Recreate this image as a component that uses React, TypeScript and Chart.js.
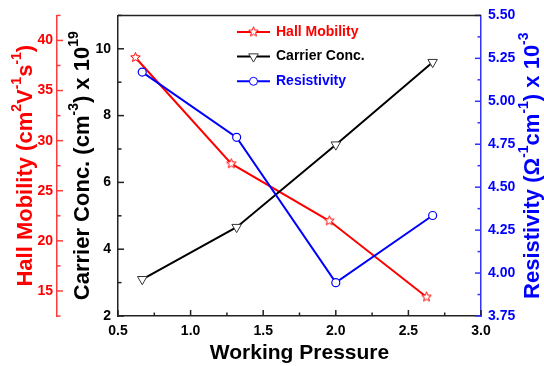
import { useEffect, useRef } from 'react';
import { Chart, registerables } from 'chart.js';

Chart.register(...registerables);

// Working pressure values for each sample
const pressureHall = [0.62, 1.28, 1.955, 2.625];
const pressure = [0.667, 1.317, 2.0, 2.667];

// Measured properties
const hallMobility = [38.3, 27.7, 22.0, 14.4];
const carrierConc = [3.1, 4.66, 7.13, 9.6];
const resistivity = [5.17, 4.79, 3.944, 4.335];

const seriesNames = ['Hall Mobility', 'Carrier Conc.', 'Resistivity'];

const RED = '#ff0000';
const RED_AXIS = '#ff3b3b';
const BLUE = '#0000ff';
const BLUE_AXIS = '#3333ff';
const BLACK = '#000000';
const FRAME = '#222222';
const FAMILY = '"Liberation Sans", Arial, Helvetica, sans-serif';

type Seg = { t: string; sup?: boolean };

function starPath(g: CanvasRenderingContext2D, cx: number, cy: number, r: number) {
  g.beginPath();
  for (let i = 0; i < 10; i++) {
    const rad = i % 2 === 0 ? r : r * 0.45;
    const a = -Math.PI / 2 + (i * Math.PI) / 5;
    const x = cx + rad * Math.cos(a);
    const y = cy + rad * Math.sin(a);
    if (i === 0) g.moveTo(x, y);
    else g.lineTo(x, y);
  }
  g.closePath();
}

function makeStar(color: string, r: number) {
  const c = document.createElement('canvas');
  const s = Math.ceil(r * 2 + 3);
  c.width = s;
  c.height = s;
  const g = c.getContext('2d')!;
  starPath(g, s / 2, s / 2, r);
  g.fillStyle = '#ffffff';
  g.fill();
  g.strokeStyle = color;
  g.lineWidth = 1;
  g.stroke();
  return c;
}

// Draws a title with superscripts, centred on (cx, cy), rotated by angle
function richText(
  ctx: CanvasRenderingContext2D,
  segs: Seg[],
  cx: number,
  cy: number,
  angle: number,
  size: number,
  color: string
) {
  const supSize = Math.round(size * 0.62);
  const fontMain = `bold ${size}px ${FAMILY}`;
  const fontSup = `bold ${supSize}px ${FAMILY}`;
  let total = 0;
  const widths = segs.map((s) => {
    ctx.font = s.sup ? fontSup : fontMain;
    const w = ctx.measureText(s.t).width;
    total += w;
    return w;
  });
  ctx.save();
  ctx.translate(cx, cy);
  ctx.rotate(angle);
  ctx.fillStyle = color;
  ctx.textBaseline = 'middle';
  ctx.textAlign = 'left';
  let x = -total / 2;
  segs.forEach((s, i) => {
    ctx.font = s.sup ? fontSup : fontMain;
    ctx.fillText(s.t, x, s.sup ? -size * 0.38 : 0);
    x += widths[i];
  });
  ctx.restore();
}

const isMultiple = (v: number, step: number) => Math.abs(v / step - Math.round(v / step)) < 1e-6;

export default function App() {
  const ref = useRef<HTMLCanvasElement | null>(null);

  useEffect(() => {
    if (!ref.current) return;
    const star = makeStar(RED, 5);

    const tickFont = { family: FAMILY, size: 14, weight: 'bold' as const };

    const innerTicks = {
      id: 'innerTicks',
      afterDraw(chart: any) {
        const ctx: CanvasRenderingContext2D = chart.ctx;
        const ca = chart.chartArea;
        const spec: [string, string, string][] = [
          ['x', FRAME, 'up'],
          ['yHall', RED_AXIS, 'right'],
          ['yCarrier', FRAME, 'right'],
          ['yRes', BLUE_AXIS, 'left'],
        ];
        ctx.save();
        for (const [id, color, dir] of spec) {
          const s = chart.scales[id];
          ctx.strokeStyle = color;
          ctx.lineWidth = 1.5;
          for (const t of s.ticks) {
            const p = s.getPixelForValue(t.value);
            const len = t.label !== '' ? 6 : 3.5;
            ctx.beginPath();
            if (dir === 'up') {
              ctx.moveTo(p, s.top);
              ctx.lineTo(p, s.top - len);
            } else if (dir === 'right') {
              ctx.moveTo(s.right, p);
              ctx.lineTo(s.right + len, p);
            } else {
              ctx.moveTo(s.left, p);
              ctx.lineTo(s.left - len, p);
            }
            ctx.stroke();
          }
        }
        // top frame line
        ctx.strokeStyle = FRAME;
        ctx.lineWidth = 1.5;
        ctx.beginPath();
        ctx.moveTo(ca.left, ca.top);
        ctx.lineTo(ca.right, ca.top);
        ctx.stroke();

        // axis titles
        const cy = (ca.top + ca.bottom) / 2;
        richText(
          ctx,
          [{ t: 'Hall Mobility (cm' }, { t: '2', sup: true }, { t: 'V' }, { t: '-1', sup: true }, { t: 's' }, { t: '-1', sup: true }, { t: ')' }],
          26,
          cy,
          -Math.PI / 2,
          22,
          RED
        );
        richText(
          ctx,
          [{ t: 'Carrier Conc. (cm' }, { t: '-3', sup: true }, { t: ') x 10' }, { t: '19', sup: true }],
          83,
          cy,
          -Math.PI / 2,
          22,
          BLACK
        );
        richText(
          ctx,
          [{ t: 'Resistivity (Ω' }, { t: '-1', sup: true }, { t: 'cm' }, { t: '-1', sup: true }, { t: ') x 10' }, { t: '-3', sup: true }],
          533,
          cy,
          -Math.PI / 2,
          22,
          BLUE
        );
        richText(ctx, [{ t: 'Working Pressure' }], (ca.left + ca.right) / 2, 353, 0, 21, BLACK);

        // legend
        const colors = [RED, BLACK, BLUE];
        const x0 = ca.left + 119;
        const x1 = ca.left + 152;
        const xm = (x0 + x1) / 2;
        seriesNames.forEach((name, i) => {
          const y = ca.top + 16.5 + i * 24.7;
          ctx.strokeStyle = colors[i];
          ctx.lineWidth = 2;
          ctx.beginPath();
          ctx.moveTo(x0, y);
          ctx.lineTo(x1, y);
          ctx.stroke();
          ctx.lineWidth = 1;
          ctx.fillStyle = '#ffffff';
          if (i === 0) {
            ctx.drawImage(star, xm - star.width / 2, y - star.height / 2);
          } else if (i === 1) {
            const r = 5.5;
            ctx.beginPath();
            ctx.moveTo(xm, y + r);
            ctx.lineTo(xm - r * 0.866, y - r / 2);
            ctx.lineTo(xm + r * 0.866, y - r / 2);
            ctx.closePath();
            ctx.fill();
            ctx.strokeStyle = '#333333';
            ctx.stroke();
          } else {
            ctx.beginPath();
            ctx.arc(xm, y, 4, 0, Math.PI * 2);
            ctx.fill();
            ctx.stroke();
          }
          ctx.font = `bold 14px ${FAMILY}`;
          ctx.fillStyle = colors[i];
          ctx.textAlign = 'left';
          ctx.textBaseline = 'middle';
          ctx.fillText(name, x1 + 6, y);
        });
        ctx.restore();
      },
    };

    const chart = new Chart(ref.current, {
      type: 'scatter',
      data: {
        datasets: [
          {
            label: seriesNames[2],
            data: pressure.map((x, i) => ({ x, y: resistivity[i] })),
            yAxisID: 'yRes',
            showLine: true,
            borderColor: BLUE,
            borderWidth: 2,
            pointStyle: 'circle',
            pointRadius: 4,
            pointBorderWidth: 1.2,
            pointBackgroundColor: '#ffffff',
            pointBorderColor: BLUE,
          },
          {
            label: seriesNames[1],
            data: pressure.map((x, i) => ({ x, y: carrierConc[i] })),
            yAxisID: 'yCarrier',
            showLine: true,
            borderColor: BLACK,
            borderWidth: 2,
            pointStyle: 'triangle',
            rotation: 180,
            pointRadius: 5.5,
            pointBorderWidth: 1,
            pointBackgroundColor: '#ffffff',
            pointBorderColor: '#333333',
          },
          {
            label: seriesNames[0],
            data: pressureHall.map((x, i) => ({ x, y: hallMobility[i] })),
            yAxisID: 'yHall',
            showLine: true,
            borderColor: RED,
            borderWidth: 2,
            pointStyle: star as any,
            pointRadius: 5,
          },
        ],
      },
      options: {
        responsive: false,
        animation: false,
        layout: { padding: { top: 12, left: 0, right: 0, bottom: 0 } },
        plugins: { legend: { display: false }, tooltip: { enabled: false } },
        scales: {
          x: {
            type: 'linear',
            position: 'bottom',
            min: 0.5,
            max: 3.0,
            ticks: {
              stepSize: 0.25,
              autoSkip: false,
              maxRotation: 0,
              padding: 7,
              color: BLACK,
              font: tickFont,
              callback: (v: any) => (isMultiple(Number(v), 0.5) ? Number(v).toFixed(1) : ''),
            },
            grid: { display: true, drawOnChartArea: false, drawTicks: false },
            border: { color: FRAME, width: 1.5 },
            afterFit: (s: any) => {
              s.height = 50;
            },
          },
          yHall: {
            type: 'linear',
            position: 'left',
            weight: 2,
            min: 12.5,
            max: 42.5,
            ticks: {
              stepSize: 2.5,
              autoSkip: false,
              padding: 4,
              color: RED,
              font: tickFont,
              callback: (v: any) => (isMultiple(Number(v), 5) ? String(Number(v)) : ''),
            },
            grid: { display: true, drawOnChartArea: false, drawTicks: false },
            border: { color: RED_AXIS, width: 1.5 },
            afterFit: (s: any) => {
              s.width = 57;
            },
          },
          yCarrier: {
            type: 'linear',
            position: 'left',
            weight: 1,
            min: 2,
            max: 11,
            ticks: {
              stepSize: 1,
              autoSkip: false,
              padding: 7,
              color: BLACK,
              font: tickFont,
              callback: (v: any) => (isMultiple(Number(v), 2) ? String(Number(v)) : ''),
            },
            grid: { display: true, drawOnChartArea: false, drawTicks: false },
            border: { color: FRAME, width: 1.5 },
            afterFit: (s: any) => {
              s.width = 61;
            },
          },
          yRes: {
            type: 'linear',
            position: 'right',
            min: 3.75,
            max: 5.5,
            ticks: {
              stepSize: 0.125,
              autoSkip: false,
              padding: 7,
              color: BLUE,
              font: tickFont,
              callback: (v: any) => (isMultiple(Number(v), 0.25) ? Number(v).toFixed(2) : ''),
            },
            grid: { display: true, drawOnChartArea: false, drawTicks: false },
            border: { color: BLUE_AXIS, width: 1.5 },
            afterFit: (s: any) => {
              s.width = 63;
            },
          },
        },
      } as any,
      plugins: [innerTicks],
    });

    return () => chart.destroy();
  }, []);

  return (
    <div style={{ position: 'fixed', left: 0, top: 0, width: 544, height: 366, background: '#ffffff' }}>
      <canvas ref={ref} width={544} height={366} />
    </div>
  );
}
